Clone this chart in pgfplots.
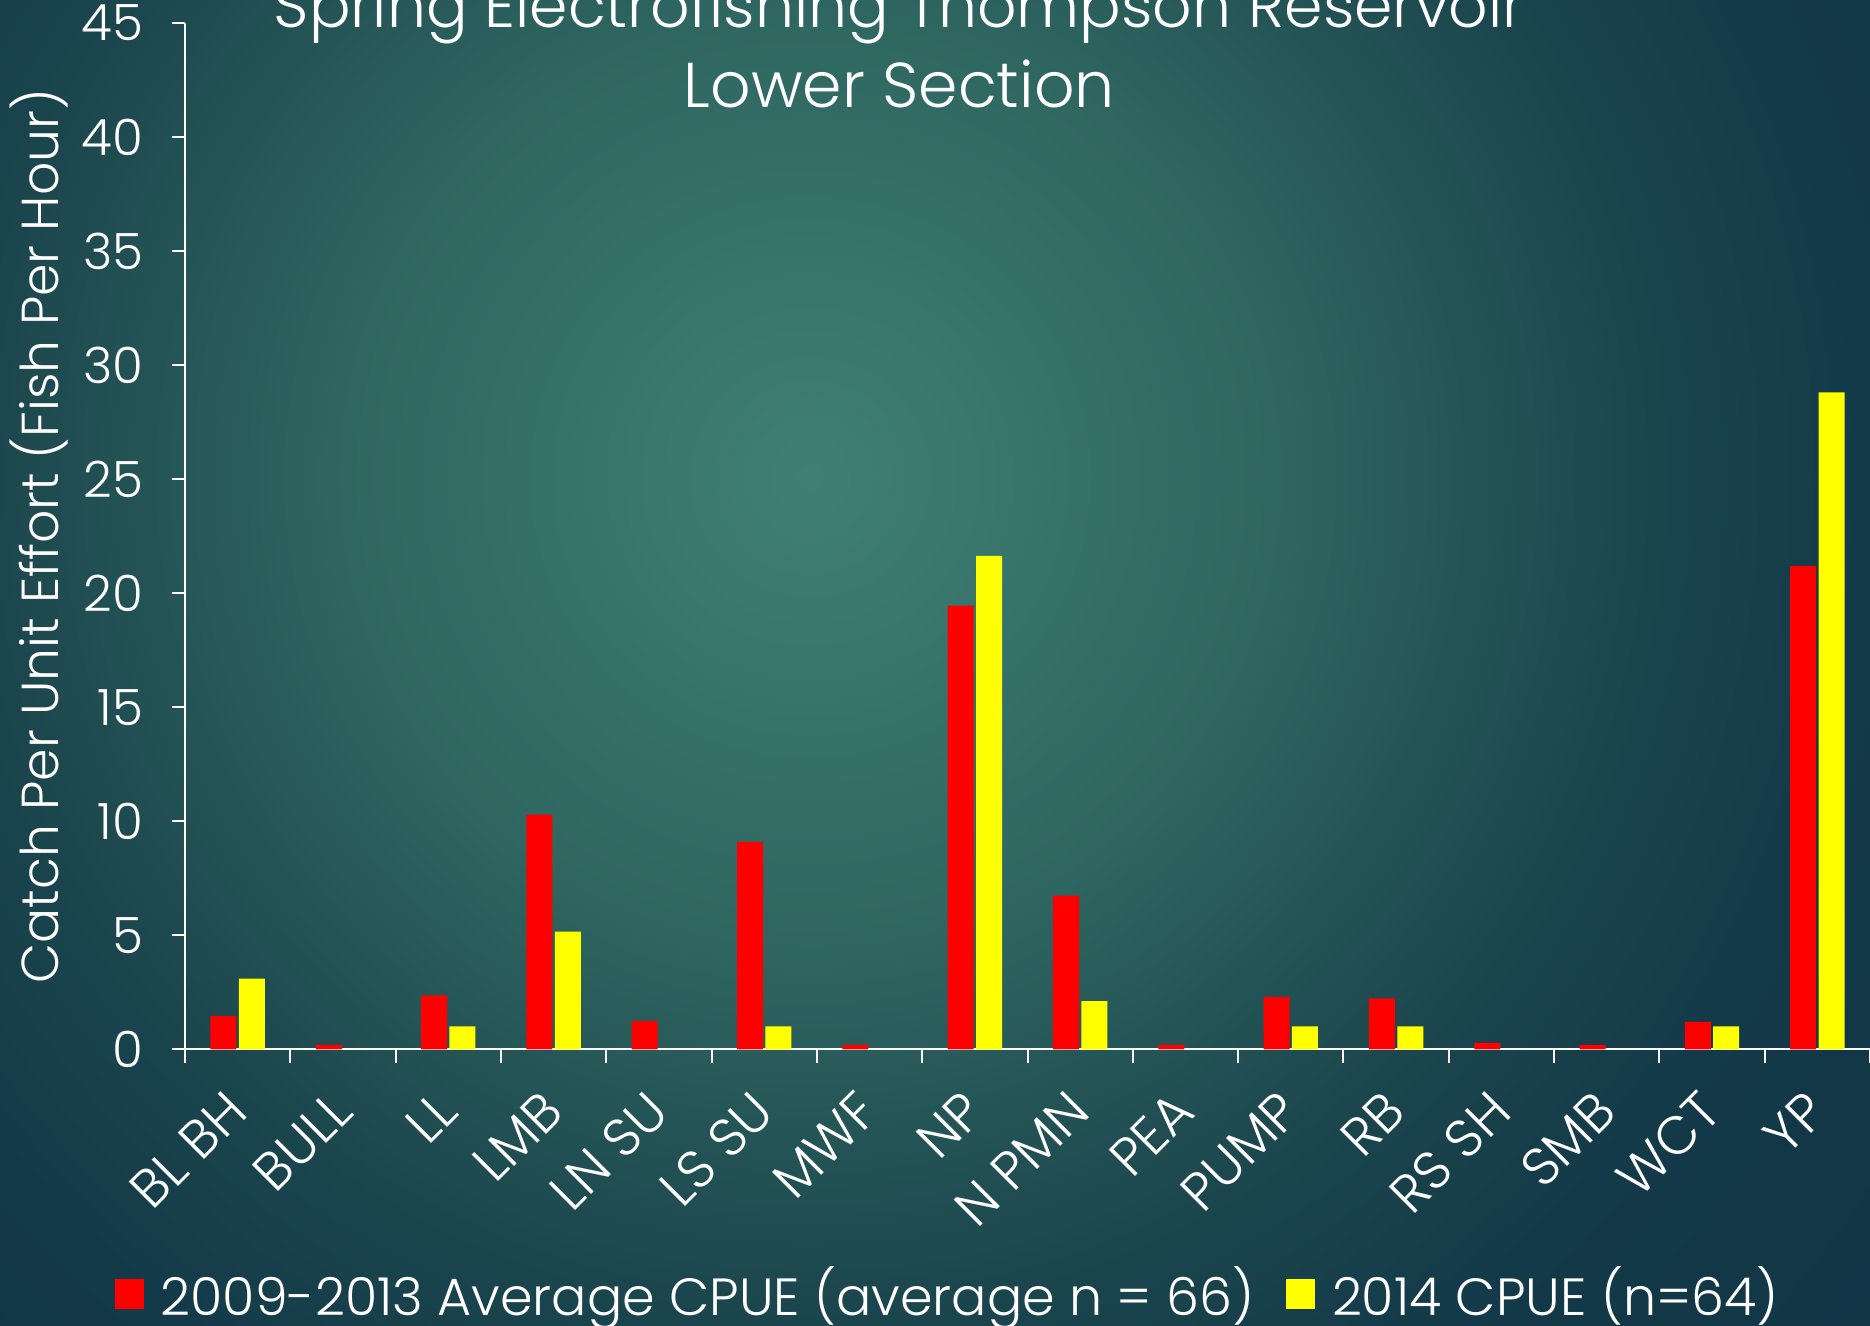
\documentclass[border=0pt]{standalone}
\usepackage{pgfplots}
\pgfplotsset{compat=1.18}
\usepackage{fontspec}
\setmainfont{Poppins Light}
\definecolor{c1}{RGB}{64,128,116}
\definecolor{c2}{RGB}{46,101,96}
\definecolor{c3}{RGB}{28,71,78}
\definecolor{c4}{RGB}{19,58,73}
\definecolor{c5}{RGB}{16,52,69}
\definecolor{barred}{RGB}{255,0,0}
\definecolor{baryellow}{RGB}{255,255,0}
\pgfdeclareradialshading{bgshade}{\pgfpoint{0bp}{0bp}}{color(0bp)=(c1); color(8bp)=(c2); color(13.5bp)=(c3); color(17.5bp)=(c4); color(25bp)=(c5); color(50bp)=(c5)}
\begin{document}
\begin{tikzpicture}[x=1pt,y=1pt]
\useasboundingbox (0,0) rectangle (561,397.8);
\clip (0,0) rectangle (561,397.8);
\shade[shading=bgshade] (243,254.7) circle (450);
\begin{axis}[
  at={(55.5pt,82.95pt)}, anchor=south west,
  scale only axis, width=505.5pt, height=308pt,
  xmin=-0.5, xmax=15.5, ymin=0, ymax=45,
  axis x line*=bottom, axis y line*=left,
  axis line style={white, line width=0.6pt, -},
  every tick/.style={white, line width=0.6pt},
  tick align=outside, major tick length=4pt,
  ytick={0,5,...,45},
  xtick={-0.5,0.5,...,15.5},
  x tick label as interval,
  xticklabels={BL BH,BULL,LL,LMB,LN SU,LS SU,MWF,NP,N PMN,PEA,PUMP,RB,RS SH,SMB,WCT,YP},
  xticklabel style={xshift=-4.3pt, yshift=-6pt, rotate=45, anchor=north east, text=white, font=\fontsize{16}{17}\selectfont, inner sep=1pt},
  yticklabel style={text=white, font=\fontsize{15}{16}\selectfont, xshift=-5pt},
  /pgf/number format/assume math mode=true,
  ylabel={Catch Per Unit Effort (Fish Per Hour)},
  ylabel style={at={(axis description cs:-0.0864,0.5)}, anchor=center, text=white, font=\fontsize{15.6}{16}\selectfont},
  ybar=0.7pt, bar width=7.8pt,
  legend style={at={(axis description cs:0.454,-0.238)}, anchor=center, draw=none, fill=none, text=white, font=\fontsize{15.7}{16}\selectfont, legend columns=2, /tikz/every even column/.append style={column sep=7.5pt}, /tikz/every odd column/.append style={column sep=3pt}},
  legend image code/.code={\fill[#1,draw=none] (0pt,-4.4pt) rectangle (8.8pt,4.4pt);},
]
\addplot[fill=barred, draw=none] coordinates {(0,1.47) (1,0.2) (2,2.37) (3,10.3) (4,1.24) (5,9.1) (6,0.2) (7,19.45) (8,6.74) (9,0.2) (10,2.31) (11,2.24) (12,0.29) (13,0.2) (14,1.21) (15,21.2)};
\addplot[fill=baryellow, draw=none] coordinates {(0,3.11) (1,0) (2,1.01) (3,5.17) (4,0) (5,1.01) (6,0) (7,21.64) (8,2.12) (9,0) (10,1.01) (11,1.01) (12,0) (13,0) (14,1.01) (15,28.8)};
\legend{2009-2013 Average CPUE (average n = 66), 2014 CPUE (n=64)}
\end{axis}
\node[anchor=base, text=white, font=\fontsize{18.5}{20}\selectfont] at (269.8,389.4) {Spring Electrofishing Thompson Reservoir};
\node[anchor=base, text=white, font=\fontsize{19}{20}\selectfont] at (269.8,365.6) {Lower Section};
\end{tikzpicture}
\end{document}
